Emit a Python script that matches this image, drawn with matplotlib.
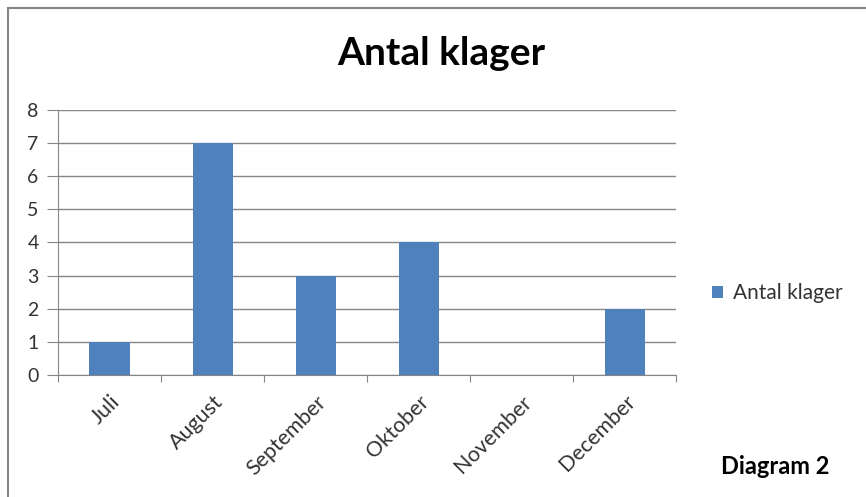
import matplotlib.pyplot as plt
import numpy as np
from matplotlib.patches import Rectangle

months = ['Juli', 'August', 'September', 'Oktober', 'November', 'December']
klager = [1, 7, 3, 4, 0, 2]
y_ticks = [0, 1, 2, 3, 4, 5, 6, 7, 8]

plt.rcParams['font.family'] = ['Lato', 'DejaVu Sans']

fig = plt.figure(figsize=(8.66, 4.97), dpi=100)
ax = fig.add_axes([0.067, 0.2455, 0.714, 0.5335])

x = np.arange(len(months))
ax.bar(x, klager, width=0.39, color='#4F81BD', label='Antal klager', zorder=3)

ax.set_xlim(-0.5, len(months) - 0.5)
ax.set_ylim(0, 8)
ax.set_yticks(y_ticks)
ax.yaxis.grid(True, color='#868686', linewidth=1, zorder=0)

# ticks between categories, labels in the middle
ax.set_xticks(np.arange(-0.5, len(months)))
ax.set_xticklabels([])
ax.set_xticks(x, minor=True)
ax.set_xticklabels(months, minor=True, rotation=45, ha='right', rotation_mode='anchor',
                   fontsize=15.5, color='#333333')
ax.tick_params(axis='x', which='minor', length=0, pad=12)
ax.tick_params(axis='x', which='major', length=5, color='#868686', direction='out')
ax.tick_params(axis='y', length=8, color='#868686', labelsize=14, labelcolor='#333333', pad=6)

for side in ['top', 'right']:
    ax.spines[side].set_visible(False)
for side in ['left', 'bottom']:
    ax.spines[side].set_color('#868686')

fig.text(0.509, 0.892, 'Antal klager', ha='center', va='center', fontsize=28, fontweight='bold')

fig.legend(loc='center left', bbox_to_anchor=(0.8, 0.41), frameon=False,
           fontsize=15, handlelength=0.55, handleheight=0.55, handletextpad=0.5,
           labelcolor='#333333')

fig.text(0.958, 0.062, 'Diagram 2', ha='right', va='center', fontsize=17, fontweight='bold')

# outer chart border (runs off the right and bottom edges)
fig.patches.append(Rectangle((0.0092, -0.05), 1.1, 1.034, transform=fig.transFigure,
                             fill=False, edgecolor='#868686', linewidth=1.5))

fig.savefig('out.png', dpi=100)
